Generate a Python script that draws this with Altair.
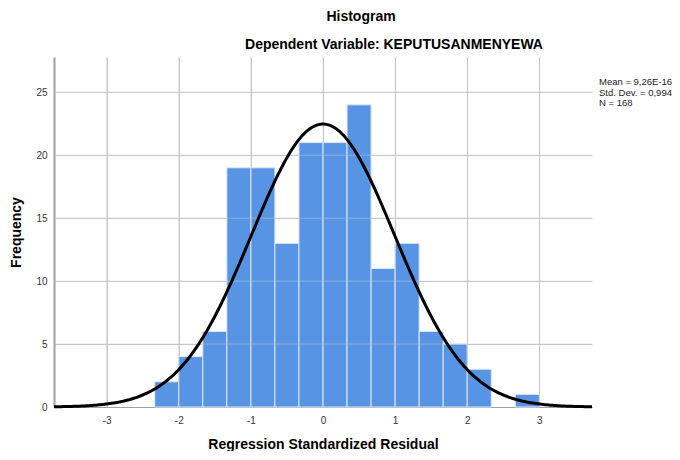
import altair as alt
import numpy as np
import pandas as pd

# Histogram bins (lower edges, width 1/3) and frequencies
bin_lo = [-7/3, -2.0, -5/3, -4/3, -1.0, -2/3, -1/3, 0.0, 1/3, 2/3, 1.0, 4/3, 5/3, 2.0, 7/3, 8/3]
counts = [2, 4, 6, 19, 19, 13, 21, 21, 24, 11, 13, 6, 5, 3, 0, 1]
bin_w = 1/3

x_ticks = [-3, -2, -1, 0, 1, 2, 3]
y_ticks = [0, 5, 10, 15, 20, 25]

mean = 9.26e-16
sd = 0.994
n = 168
legend_lines = ["Mean = 9,26E-16", "Std. Dev. = 0,994", "N = 168"]

xmin, xmax = -3.73, 3.73
ymax = 27.8

bars = pd.DataFrame({"lo": bin_lo, "hi": [b + bin_w for b in bin_lo], "count": counts})
bars = bars[bars["count"] > 0]

xs = np.linspace(xmin, xmax, 300)
curve = pd.DataFrame({
    "x": xs,
    "y": n * bin_w / (sd * np.sqrt(2 * np.pi)) * np.exp(-0.5 * ((xs - mean) / sd) ** 2),
})

FONT = "Liberation Sans"
xscale = alt.Scale(domain=[xmin, xmax], nice=False, zero=False)
yscale = alt.Scale(domain=[0, ymax], nice=False)

xaxis = alt.Axis(values=x_ticks, labelExpr="'' + datum.value", title="Regression Standardized Residual",
                 grid=True, gridColor="#c8c8c8", ticks=False, labelPadding=8, domainColor="#a0a0a0",
                 labelFontSize=10, labelColor="#333333", labelFont=FONT,
                 titleFont=FONT, titleFontSize=14, titleFontWeight="bold",
                 titlePadding=12, titleColor="#000000", labelFlush=False)
yaxis = alt.Axis(values=y_ticks, labelExpr="'' + datum.value", title="Frequency", grid=True,
                 gridColor="#c8c8c8", ticks=False, labelPadding=7, domainColor="#a0a0a0", domainWidth=2,
                 labelFontSize=10, labelColor="#333333", labelFont=FONT,
                 titleFont=FONT, titleFontSize=14, titleFontWeight="bold",
                 titlePadding=12, titleColor="#000000")

bar_layer = alt.Chart(bars).mark_rect(color="#5894e4", stroke="#dde8f8", strokeWidth=1).encode(
    x=alt.X("lo:Q", scale=xscale, axis=xaxis),
    x2="hi:Q",
    y=alt.Y("count:Q", scale=yscale, axis=yaxis),
    y2=alt.datum(0),
)

vgrid = alt.Chart(pd.DataFrame({"v": x_ticks})).mark_rule(color="#c8c8c8", opacity=0.5).encode(
    x=alt.X("v:Q", scale=xscale))
hgrid = alt.Chart(pd.DataFrame({"v": y_ticks[1:]})).mark_rule(color="#c8c8c8", opacity=0.5).encode(
    y=alt.Y("v:Q", scale=yscale))

line_layer = alt.Chart(curve).mark_line(color="#000000", strokeWidth=3).encode(
    x=alt.X("x:Q", scale=xscale), y=alt.Y("y:Q", scale=yscale))

def text_at(t, x, y, size, weight="normal", align="center", color="#000000"):
    return alt.Chart(pd.DataFrame({"t": [t]})).mark_text(
        font=FONT, fontSize=size, fontWeight=weight, align=align, baseline="middle", color=color
    ).encode(text="t:N", x=alt.value(x), y=alt.value(y))

title1 = text_at("Histogram", 307, -40, 14, "bold")
title2 = text_at("Dependent Variable: KEPUTUSANMENYEWA", 340, -12, 14, "bold")
legend = [text_at(t, 545, 25 + 10.5 * i, 9.5, align="left", color="#222222")
          for i, t in enumerate(legend_lines)]

chart = alt.layer(bar_layer, vgrid, hgrid, line_layer, title1, title2, *legend).properties(
    width=538, height=350,
    autosize=alt.AutoSizeParams(type="none"),
    padding={"left": 46, "top": 49, "right": 80, "bottom": 44},
).configure_view(stroke=None)

chart.save("out.html", embed_options={"renderer": "svg", "actions": False})
